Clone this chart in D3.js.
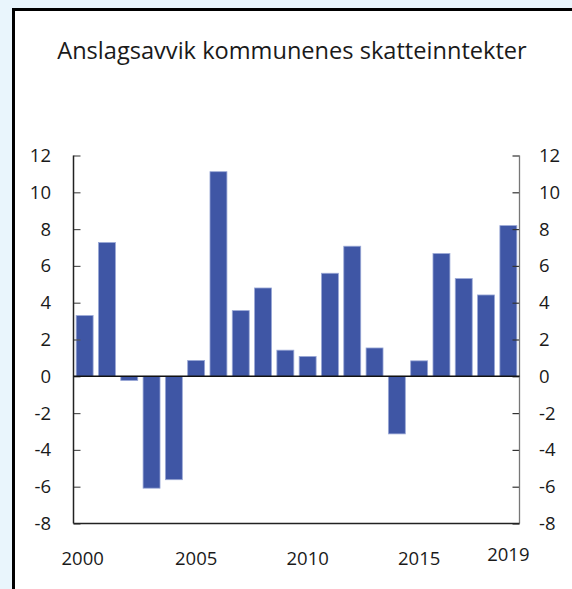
<!DOCTYPE html>
<html><head><meta charset="utf-8">
<script src="https://cdn.jsdelivr.net/npm/d3@7"></script>
<style>
html,body{margin:0;padding:0;background:#e9f5fc;}
svg{display:block;}
</style></head>
<body><svg id="c" width="572" height="589"></svg>
<script>
const title = "Anslagsavvik kommunenes skatteinntekter";
const years = [2000,2001,2002,2003,2004,2005,2006,2007,2008,2009,2010,2011,2012,2013,2014,2015,2016,2017,2018,2019];
const values = [3.3,7.27,-0.23,-6.08,-5.62,0.86,11.12,3.57,4.8,1.42,1.08,5.6,7.07,1.54,-3.13,0.84,6.67,5.31,4.42,8.19];
const yTicks = [-8,-6,-4,-2,0,2,4,6,8,10,12];
const xLabels = [2000,2005,2010,2015,2019];

const svg = d3.select("#c");
const font = "'Open Sans', sans-serif";
// panel
svg.append("rect").attr("x",13.5).attr("y",9.5).attr("width",572).attr("height",600)
  .attr("fill","#fff").attr("stroke","#000").attr("stroke-width",3);

svg.append("text").attr("x",292).attr("y",59).attr("text-anchor","middle")
  .attr("font-family",font).attr("font-size",23.6).attr("fill","#1a1a1a").text(title);

const L=73.5, R=519.5;
const x = d3.scaleBand().domain(years).range([L,R]).paddingInner(0.24).paddingOuter(0.12);
const y = d3.scaleLinear().domain([-8,12]).range([523.5,155.5]);

svg.append("g").selectAll("rect").data(values).join("rect")
  .attr("x",(d,i)=>x(years[i]))
  .attr("width",x.bandwidth())
  .attr("y",d=>y(Math.max(0,d)))
  .attr("height",d=>Math.abs(y(d)-y(0)))
  .attr("fill","#3f56a5").attr("stroke","#9aa8d6").attr("stroke-width",0.8);

const axL = d3.axisRight(y).tickValues(yTicks).tickSize(7).tickFormat("");
const gL = svg.append("g").attr("transform",`translate(${L},0)`).call(axL);
gL.select(".domain").remove();
gL.selectAll(".tick line").attr("stroke","#555").attr("stroke-width",1.2);
const axR = d3.axisLeft(y).tickValues(yTicks).tickSize(7).tickFormat("");
const gR = svg.append("g").attr("transform",`translate(${R},0)`).call(axR);
gR.select(".domain").remove();
gR.selectAll(".tick line").attr("stroke","#333").attr("stroke-width",1.2);

svg.append("line").attr("x1",L).attr("x2",L).attr("y1",y(12)).attr("y2",y(-8)).attr("stroke","#222").attr("stroke-width",1.5);
svg.append("line").attr("x1",R).attr("x2",R).attr("y1",y(12)).attr("y2",y(-8)).attr("stroke","#777").attr("stroke-width",1.3);
svg.append("line").attr("x1",L).attr("x2",R).attr("y1",y(-8)).attr("y2",y(-8)).attr("stroke","#222").attr("stroke-width",1.5);
svg.append("line").attr("x1",L).attr("x2",R).attr("y1",y(0)).attr("y2",y(0)).attr("stroke","#111").attr("stroke-width",1.6);

const fs = 18.5;
svg.append("g").selectAll("text").data(yTicks).join("text")
  .attr("x",51).attr("y",d=>y(d)+6.5).attr("text-anchor","end")
  .attr("font-family",font).attr("font-size",fs).attr("fill","#1a1a1a").text(d=>d);
svg.append("g").selectAll("text").data(yTicks).join("text")
  .attr("x",539).attr("y",d=>y(d)+6.5).attr("text-anchor","start")
  .attr("font-family",font).attr("font-size",fs).attr("fill","#1a1a1a").text(d=>d);
svg.append("g").selectAll("text").data(xLabels).join("text")
  .attr("x",d=>x(d)+x.bandwidth()/2 - (d===2000?2:0)).attr("y",d=>d===2019?561:564.5).attr("text-anchor","middle")
  .attr("font-family",font).attr("font-size",fs).attr("fill","#1a1a1a").text(d=>d);
</script></body></html>
